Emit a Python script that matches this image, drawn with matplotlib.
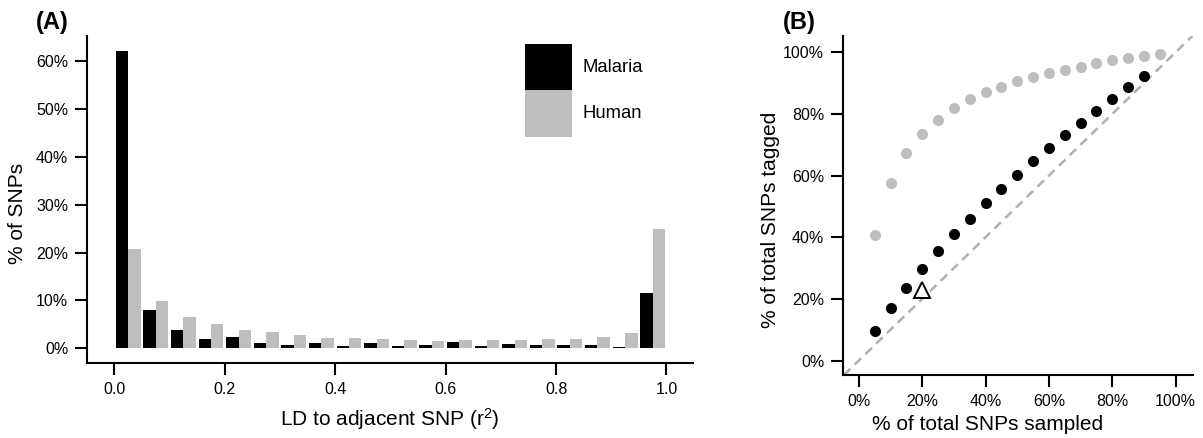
import matplotlib
matplotlib.use("Agg")
import matplotlib.pyplot as plt
import numpy as np
from matplotlib.patches import Rectangle
from matplotlib.ticker import FuncFormatter

plt.rcParams["font.family"] = ["Liberation Sans", "DejaVu Sans"]

# (A) LD to adjacent SNP, 20 bins of width 0.05, % of SNPs per bin
bin_starts = [0.00, 0.05, 0.10, 0.15, 0.20, 0.25, 0.30, 0.35, 0.40, 0.45,
              0.50, 0.55, 0.60, 0.65, 0.70, 0.75, 0.80, 0.85, 0.90, 0.95]
malaria_pct = [62.1, 8.0, 3.8, 1.9, 2.4, 1.1, 0.7, 1.1, 0.5, 1.1,
               0.5, 0.7, 1.4, 0.4, 0.8, 0.6, 0.6, 0.6, 0.2, 11.5]
human_pct = [20.7, 9.9, 6.6, 5.1, 3.8, 3.4, 2.8, 2.2, 2.2, 1.9,
             1.7, 1.5, 1.8, 1.7, 1.7, 1.9, 1.9, 2.3, 3.1, 24.9]
series_names = ["Malaria", "Human"]

# (B) fraction of SNPs tagged vs fraction sampled
malaria_sampled = [0.05, 0.10, 0.15, 0.20, 0.25, 0.30, 0.35, 0.40, 0.45,
                   0.50, 0.55, 0.60, 0.65, 0.70, 0.75, 0.80, 0.85, 0.90]
malaria_tagged = [0.097, 0.171, 0.236, 0.298, 0.355, 0.412, 0.460, 0.511, 0.558,
                  0.603, 0.648, 0.691, 0.733, 0.771, 0.810, 0.849, 0.888, 0.924]
human_sampled = [0.05, 0.10, 0.15, 0.20, 0.25, 0.30, 0.35, 0.40, 0.45, 0.50,
                 0.55, 0.60, 0.65, 0.70, 0.75, 0.80, 0.85, 0.90, 0.95]
human_tagged = [0.408, 0.575, 0.672, 0.735, 0.782, 0.818, 0.847, 0.870, 0.889, 0.907,
                0.920, 0.932, 0.944, 0.954, 0.965, 0.974, 0.980, 0.988, 0.995]
extra_point = (0.20, 0.230)

W, H = 1203, 438
GRAY = "#bebebe"
fig = plt.figure(figsize=(W / 100, H / 100), dpi=100)


def box(l, t, r, b):
    return [l / W, 1 - b / H, (r - l) / W, (b - t) / H]


def style(ax):
    for s in ("top", "right"):
        ax.spines[s].set_visible(False)
    for s in ("left", "bottom"):
        ax.spines[s].set_linewidth(1.5)
    ax.tick_params(length=8.5, width=1.5, labelsize=11.5, pad=5, color="black")


# ---- panel A
axA = fig.add_axes(box(87, 36, 693, 363))
style(axA)
starts = np.array(bin_starts)
axA.bar(starts + 0.0025, malaria_pct, width=0.0225, align="edge", color="black", linewidth=0)
axA.bar(starts + 0.025, human_pct, width=0.0225, align="edge", color=GRAY, linewidth=0)
axA.set_xlim(-0.0495, 1.048)
axA.set_ylim(-3.07, 65.3)
axA.set_yticks([0, 10, 20, 30, 40, 50, 60])
axA.yaxis.set_major_formatter(FuncFormatter(lambda v, p: f"{v:.0f}%"))
axA.set_xticks([0.0, 0.2, 0.4, 0.6, 0.8, 1.0])
axA.xaxis.set_major_formatter(FuncFormatter(lambda v, p: f"{v:.1f}"))

# legend boxes
for (top, bot), col, name in zip([(44, 90), (90, 137)], ["black", GRAY], series_names):
    fig.patches.append(Rectangle((525 / W, 1 - bot / H), 47 / W, (bot - top) / H,
                                 transform=fig.transFigure, color=col, linewidth=0))
    fig.text(583 / W, 1 - (top + bot) / 2 / H, name, fontsize=13.3, va="center", ha="left")

fig.text(390 / W, 1 - 426 / H, r"LD to adjacent SNP (r$\mathregular{^2}$)",
         fontsize=15, ha="center", va="baseline")
fig.text(18 / W, 1 - 213 / H, "% of SNPs", fontsize=15, rotation=90, ha="center", va="center")
fig.text(36 / W, 1 - 22.5 / H, "(A)", fontsize=17, fontweight="bold", ha="left", va="center")

# ---- panel B
axB = fig.add_axes(box(843, 36, 1193, 375))
style(axB)
axB.axline((0, 0), (1, 1), color="#b0b0b0", lw=1.8, ls=(0, (3.6, 2.4)), zorder=1)
axB.plot(human_sampled, human_tagged, "o", color=GRAY, ms=8, mew=0, zorder=2)
axB.plot(malaria_sampled, malaria_tagged, "o", color="black", ms=8, mew=0, zorder=3)
axB.plot([extra_point[0]], [extra_point[1]], "^", mfc="white", mec="black", ms=11, mew=1.4, zorder=4)
axB.set_xlim(-0.05, 1.055)
axB.set_ylim(-0.047, 1.053)
ticks = [0, 0.2, 0.4, 0.6, 0.8, 1.0]
axB.set_xticks(ticks)
axB.set_yticks(ticks)
pct = FuncFormatter(lambda v, p: f"{v * 100:.0f}%")
axB.xaxis.set_major_formatter(pct)
axB.yaxis.set_major_formatter(pct)

fig.text(988 / W, 1 - 430 / H, "% of total SNPs sampled", fontsize=15, ha="center", va="baseline")
fig.text(770 / W, 1 - 220 / H, "% of total SNPs tagged", fontsize=15, rotation=90,
         ha="center", va="center")
fig.text(783 / W, 1 - 22.5 / H, "(B)", fontsize=17, fontweight="bold", ha="left", va="center")

fig.savefig("out.png", dpi=100, facecolor="white")
